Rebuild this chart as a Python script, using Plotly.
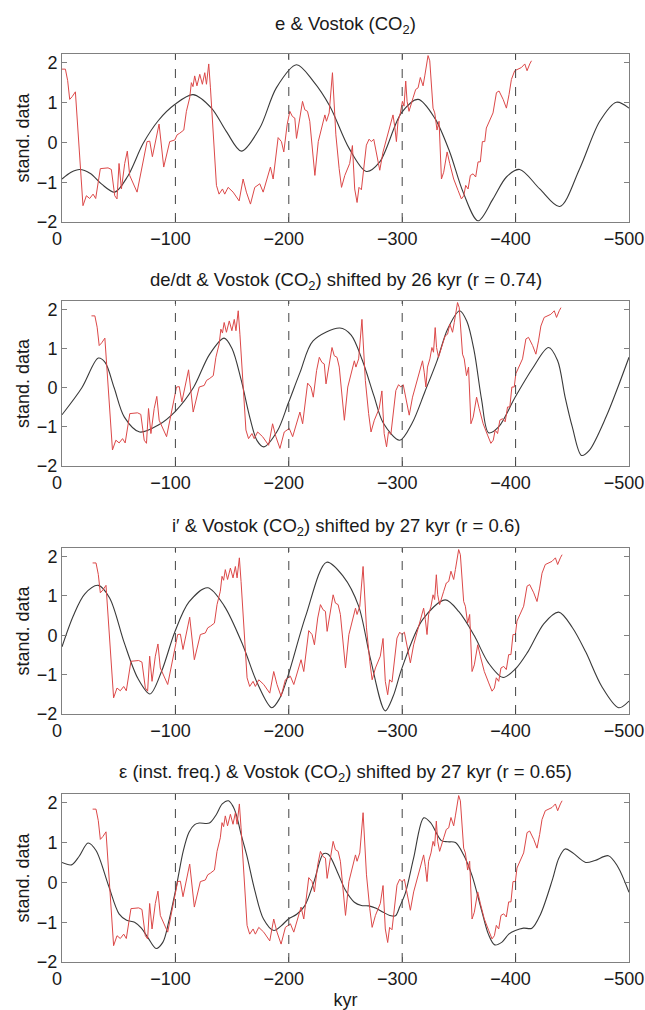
import plotly.graph_objects as go
from plotly.subplots import make_subplots

# Vostok CO2, standardized (age in kyr, negative = past)
vostok_age = [0, -3, -5, -6.8, -9, -11.8, -18.5, -21.5, -24.4, -27.4, -29.7, -33.8, -40.6, -43.5,
              -46.5, -48.5, -50.3, -52.4, -55.3, -57.6, -59.7, -66.2, -75, -77.4, -79.7, -81.8,
              -85.6, -89.7, -91.5, -95, -99.4, -101.5, -103.8, -107.4, -109.7, -112.6, -114.1,
              -115.5, -117, -119, -121.5, -123.8, -125.9, -127.4, -129.4, -130.9, -136.2, -138.5,
              -141.5, -143.5, -146.5, -150.9, -156.2, -159.7, -162.6, -166.2, -170, -174.4,
              -177.4, -181.8, -183.8, -186.2, -190.6, -193.5, -195.6, -198.5, -200.9, -203.2,
              -205.3, -206.8, -209.1, -212.1, -214.1, -216.5, -218.5, -223, -226, -228.8, -231.8,
              -233.2, -235.6, -238.5, -241.5, -244.4, -246.5, -249.4, -253.7, -256.1, -258.1,
              -260.2, -261.9, -264, -266.1, -268.4, -270.8, -272.8, -274.9, -277.2, -280.2,
              -283.1, -286.1, -289, -291.9, -293.4, -294.9, -296.3, -298.4, -300.2, -301.6,
              -303.1, -304.3, -306, -308.1, -309.6, -311.9, -314, -316, -318.4, -319.9, -321.9,
              -322.8, -324.3, -325.7, -327.2, -328.7, -330.7, -332.5, -334.6, -336.6, -339.6,
              -341.9, -345.4, -349.3, -352.2, -354.3, -356, -358.1, -360.1, -362.5, -364.8,
              -366.9, -368.9, -370.7, -372.8, -374.2, -376.6, -378.6, -380.1, -383.1, -385.4,
              -389, -391.9, -394.2, -396.3, -399.2, -402.2, -405.1, -408.1, -410.1, -412.5, -414]
vostok_co2 = [1.84, 1.84, 1.55, 1.08, 1.15, 1.27, -1.59, -1.34, -1.41, -1.30, -1.41, -0.66, -0.64, -0.68,
              -1.34, -1.42, -0.53, -1.17, -0.53, -0.22, -0.83, -1.25, 0.02, 0.03, -0.36, -0.07,
              0.46, -0.62, -0.41, 0.02, 0.06, 0.19, 0.23, 0.31, 0.78, 1.12, 1.5,
              1.4, 1.67, 1.42, 1.71, 1.46, 1.75, 1.46, 1.97, 1.37, -1.08, -1.30,
              -1.17, -1.30, -1.13, -1.25, -1.47, -0.92, -1.25, -1.55, -1.13, -1.04,
              -1.25, -0.79, -0.62, -0.92, 0.12, 0.02, -0.24, 0.44, 0.78, 0.65,
              0.61, 0.10, 0.53, 1.03, 0.82, 0.78, 0.53, -0.83, 0.02, 0.36, 0.69,
              0.53, 0.74, 1.75, 0.19, -0.66, -1.13, -0.83, -0.53, -0.08, -1.17,
              -1.51, -1.13, -1.19, -0.66, -0.07, 0.08, 0.02, 0.08, -0.24, -0.70,
              -0.24, 0.10, 0.36, 0.69, 0.40, 0.02, 0.53, 0.74, 1.03, 0.91,
              1.54, 1.03, 0.78, 0.95, 1.12, 1.33, 1.37, 1.63, 1.42, 1.67, 1.97,
              2.18, 2.05, 1.46, 0.86, 0.74, 0.31, 0.53, -0.92, -0.75, -0.24,
              -0.53, -0.92, -1.21, -1.42, -1.34, -1.08, -1.17, -0.83, -0.79, -0.87,
              -0.49, -0.49, 0.02, 0.02, 0.36, 0.53, 0.65, 0.74, 1.25, 1.29,
              1.08, 0.86, 1.20, 1.58, 1.80, 1.84, 1.88, 1.97, 1.80, 1.97, 2.05]

# eccentricity e
e_age = [0, -8, -15.6, -25, -35, -46.5, -58, -71.5, -85, -99.4, -115.6, -131.8, -145, -158.2,
         -174.4, -189, -206.8, -221.5, -236.2, -253.2, -268.4, -280.2, -299.3, -314, -328.7,
         -341.9, -353.7, -366.9, -380.1, -391.9, -403.6, -421.3, -438.9, -456.5, -474.2,
         -488.9, -500]
e_val = [-0.92, -0.75, -0.68, -0.78, -1.05, -1.25, -0.85, -0.03, 0.55, 0.95, 1.20, 0.86, 0.27, -0.22,
         0.36, 1.37, 1.95, 1.54, 0.91, -0.15, -0.73, -0.49, 0.74, 1.08, 0.61,
         -0.24, -1.25, -1.97, -1.42, -0.87, -0.68, -1.17, -1.61, -0.66, 0.53,
         1.01, 0.86]

# de/dt
dedt_age = [0, -17.5, -32, -38, -46, -55, -68.5, -85, -100, -115.8, -130, -143, -150, -158, -166,
            -172, -178, -190, -199.6, -210, -221.4, -245, -255, -265, -275, -283.3, -297.9,
            -308.8, -320, -330.7, -340, -350.7, -357, -363.4, -370, -376.2, -385, -399.8, -415,
            -429, -437, -443.6, -450, -458.1, -465, -480, -490, -500]
dedt_val = [-0.69, 0.0, 0.76, 0.65, 0.0, -0.75, -1.13, -0.95, -0.6, 0.0, 0.85, 1.27, 1.0, 0.2, -0.8,
            -1.35, -1.51, -1.1, -0.39, 0.4, 1.2, 1.53, 1.35, 0.69, -0.2, -0.9, -1.34,
            -0.9, -0.1, 0.69, 1.5, 1.97, 1.7, 0.95, -0.3, -1.15, -1.0, -0.23, 0.5,
            1.03, 0.7, -0.23, -1.0, -1.73, -1.6, -0.73, 0.0, 0.78]

# inclination i'
incl_age = [0, -10, -20, -32, -42, -55, -67, -77.6, -88, -99.4, -112, -128.5, -143, -159.5, -172,
            -185, -192, -199.6, -215, -233.4, -248, -261.5, -272, -285, -292, -299.7, -318,
            -337.9, -350, -363.4, -376, -388.9, -400, -410.8, -425, -438, -450, -461.8, -476,
            -490.9, -500]
incl_val = [-0.29, 0.5, 1.05, 1.27, 0.95, -0.2, -1.1, -1.49, -0.9, 0.08, 0.85, 1.21, 0.75, -0.25, -1.2,
            -1.84, -1.6, -1.0, 0.5, 1.86, 1.5, 0.75, -0.6, -1.92, -1.55, -0.84, 0.4,
            0.9, 0.6, 0.0, -0.7, -1.07, -0.85, -0.42, 0.3, 0.59, 0.2, -0.42, -1.3,
            -1.84, -1.67]

# eccentricity instantaneous frequency
freq_age = [0, -8.4, -15, -23, -30, -41, -50.3, -57, -64, -70, -76, -83, -89, -94, -101, -107, -112,
            -117, -121, -130, -136, -141.3, -146.8, -151, -154, -158, -163, -170, -177.7, -186.8,
            -193, -199.6, -207, -214, -222, -230.5, -235, -243, -250, -257.8, -264, -270.6, -277,
            -283.3, -289, -294, -298, -303, -310, -319, -325, -334.5, -340, -347, -354, -361.6,
            -370, -376, -381.6, -388, -394, -399.8, -407, -414.4, -422, -432.6, -438, -443.6,
            -450, -461.8, -470, -481.8, -490, -500]
freq_val = [0.5, 0.44, 0.65, 0.99, 0.8, -0.08, -0.79, -0.95, -1.0, -1.15, -1.4, -1.66, -1.5, -1.0, -0.08, 0.8, 1.26,
            1.45, 1.49, 1.49, 1.7, 1.97, 2.05, 1.9, 1.67, 1.2, 0.67, -0.2, -0.92, -1.21,
            -1.1, -0.92, -0.8, -0.59, 0.0, 0.72, 0.7, 0.25, -0.2, -0.5, -0.58, -0.59, -0.65,
            -0.75, -0.83, -0.84, -0.6, -0.25, 0.6, 1.62, 1.5, 1.05, 1.02, 1.0, 0.7, 0.17,
            -0.7, -1.3, -1.57, -1.5, -1.3, -1.21, -1.15, -1.15, -0.8, 0.08, 0.6, 0.84,
            0.75, 0.5, 0.55, 0.67, 0.4, -0.25]

titles = [
    "e & Vostok (CO<sub>2</sub>)",
    "de/dt & Vostok (CO<sub>2</sub>) shifted by 26 kyr (r = 0.74)",
    "i\u2032 & Vostok (CO<sub>2</sub>) shifted by 27 kyr (r = 0.6)",
    "\u03b5 (inst. freq.) & Vostok (CO<sub>2</sub>) shifted by 27 kyr (r = 0.65)",
]
shifts = [0, 26, 27, 27]
x_ticks = [0, -100, -200, -300, -400, -500]
y_ticks = [-2, -1, 0, 1, 2]
dash_x = [-100, -200, -300, -400]

curves = [(e_age, e_val), (dedt_age, dedt_val), (incl_age, incl_val), (freq_age, freq_val)]

FONT = "Liberation Sans, Arial, Helvetica, sans-serif"
TXT = "#1a1a1a"
W, H = 645, 1010
ML, MR, MT, MB = 62, 16, 54, 48
plot_h = H - MT - MB
# axes top/bottom and title centre, in pixels
tops = [54, 301, 548, 794]
bots = [222, 466, 714, 962]
title_px = [25, 281, 527, 773]


def py(p):
    return (H - MB - p) / plot_h


fig = make_subplots(rows=4, cols=1)

for i, ((age, val), shift) in enumerate(zip(curves, shifts), start=1):
    fig.add_trace(go.Scatter(x=age, y=val, mode="lines",
                             line=dict(color="#3a3a3a", width=1.1, shape="spline", smoothing=0.9),
                             hoverinfo="skip"), row=i, col=1)
    fig.add_trace(go.Scatter(x=[a - shift for a in vostok_age], y=vostok_co2, mode="lines",
                             line=dict(color="#dc4848", width=1), hoverinfo="skip"), row=i, col=1)
    for xv in dash_x:
        fig.add_vline(x=xv, line=dict(color="#444444", width=1, dash="dash"), row=i, col=1)

axis_common = dict(showline=True, mirror="ticks", linecolor="#808080", linewidth=1,
                   ticks="inside", ticklen=5, tickcolor="#808080", showgrid=False,
                   zeroline=False, automargin=False,
                   tickfont=dict(family=FONT, size=18, color=TXT))

for i in range(4):
    n = "" if i == 0 else str(i + 1)
    fig.layout["xaxis" + n].update(domain=[0, 1], range=[0, -500], tickvals=x_ticks,
                                    ticklabeloverflow="allow", **axis_common)
    fig.layout["yaxis" + n].update(domain=[py(bots[i]), py(tops[i])], range=[-2, 2.22],
                                    tickvals=y_ticks,
                                    title=dict(text="stand. data", standoff=2,
                                               font=dict(family=FONT, size=18, color=TXT)),
                                    **axis_common)
    fig.add_annotation(text=titles[i], x=0.5, y=py(title_px[i]), xref="paper", yref="paper",
                       showarrow=False, yanchor="middle",
                       font=dict(family=FONT, size=18.5, color=TXT))

fig.layout["xaxis4"].update(title=dict(text="kyr", standoff=6,
                                       font=dict(family=FONT, size=18, color=TXT)))

fig.update_layout(width=W, height=H, margin=dict(l=ML, r=MR, t=MT, b=MB),
                  paper_bgcolor="white", plot_bgcolor="white", showlegend=False,
                  font=dict(family=FONT))
# nudge the x tick labels a few px left so "-500" stays inside the page
# (the axis is reversed, so a positive shift moves them left on screen)
fig.update_xaxes(ticklabelshift=5)

# drop the default 8px page margin so the figure fills the window exactly
fig.write_html("out.html", config={"displayModeBar": False},
               post_script="document.body.style.margin='0';")
